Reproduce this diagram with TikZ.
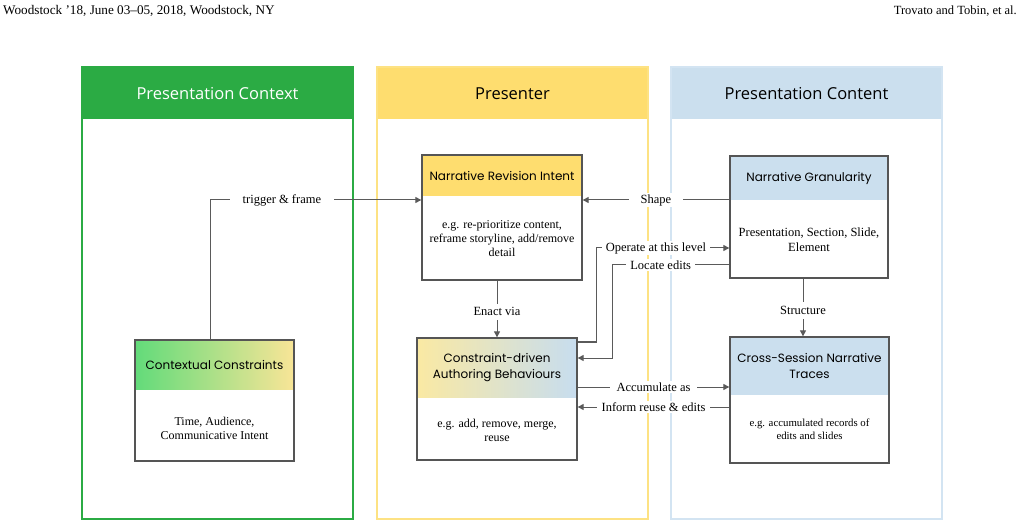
\documentclass[tikz,border=0pt]{standalone}
\usepackage{fontspec}
\setmainfont{Liberation Serif}
\newfontfamily\popp{Poppins}
\newfontfamily\hdrf{Open Sans}
\usetikzlibrary{arrows.meta,calc}
\definecolor{grn}{HTML}{2BAB44}
\definecolor{yel}{HTML}{FEDD6F}
\definecolor{yelb}{HTML}{FDE283}
\definecolor{blu}{HTML}{CBDFEE}
\definecolor{blub}{HTML}{D3E4F2}
\definecolor{boxc}{HTML}{555555}
\definecolor{conc}{HTML}{5A5A5A}
\definecolor{gA}{HTML}{62DB7A}
\definecolor{gB}{HTML}{F9E597}
\definecolor{cA}{HTML}{FAE9A3}
\definecolor{cB}{HTML}{C7DDEF}
\tikzset{
  panel/.style={draw=#1, line width=2pt, inner sep=0, minimum width=271, minimum height=452},
  box/.style={draw=boxc, line width=1.3pt, fill=white, inner sep=0},
  hdrfill/.style 2 args={path picture={\fill[#1] (path picture bounding box.north west) rectangle ([yshift=-#2]path picture bounding box.north east);}},
  hdrshade/.style n args={3}{path picture={\shade[left color=#1,right color=#2] (path picture bounding box.north west) rectangle ([yshift=-#3]path picture bounding box.north east);}},
  ptitle/.style={font=\hdrf\fontsize{16.5}{19}\selectfont},
  ttl/.style={font=\popp\fontsize{12}{16}\selectfont, align=center, inner sep=0},
  body/.style={font=\fontsize{12}{14}\selectfont, align=center, inner sep=0},
  con/.style={draw=conc, line width=1pt, -{Triangle[length=6pt,width=6pt]}},
  lab/.style={fill=white, inner ysep=1.5pt, font=\fontsize{12.5}{14}\selectfont, text=black},
}
\begin{document}
\begin{tikzpicture}[x=1pt,y=-1pt]
\useasboundingbox (0,0) rectangle (1022,526);
% running header
\node[anchor=west, font=\fontsize{13.2}{14}\selectfont, inner sep=0] (rh1) at (3,11) {Woodstock ’18, June 03–05, 2018, Woodstock, NY};
\node[anchor=east, font=\fontsize{12.5}{14}\selectfont, inner sep=0] (rh2) at (1017,11) {Trovato and Tobin, et al.};
% panels
\fill[grn] (82,67) rectangle (353,119);
\fill[yel] (377,67) rectangle (648,119);
\fill[blu] (671,67) rectangle (942,119);
\node[panel=grn] (p1) at (217.5,293) {};
\node[panel=yelb] (p2) at (512.5,293) {};
\node[panel=blub] (p3) at (806.5,293) {};
\node[ptitle, text=white] (p1t) at (217.5,94) {Presentation Context};
\node[ptitle] (p2t) at (512.5,94) {Presenter};
\node[ptitle] (p3t) at (806.5,94) {Presentation Content};
% boxes
\node[box, minimum width=160, minimum height=125, hdrfill={yel}{41pt}] (nri) at (502,217.5) {};
\node[box, minimum width=158, minimum height=122, hdrfill={blu}{44pt}] (ng) at (809,217) {};
\node[box, minimum width=159, minimum height=121, hdrshade={gA}{gB}{49pt}] (ctx) at (214.5,400.5) {};
\node[box, minimum width=160, minimum height=122, hdrshade={cA}{cB}{59pt}] (cab) at (497,399) {};
\node[box, minimum width=159, minimum height=126, hdrfill={blu}{58pt}] (cs) at (809.5,400) {};
% box texts
\node[ttl] (nrit) at (502,175.5) {Narrative Revision Intent};
\node[body] (nrib) at (502,238.5) {e.g. re-prioritize content,\\reframe storyline, add/remove\\detail};
\node[ttl] (ngt) at (809,178) {Narrative Granularity};
\node[body, font=\fontsize{12.5}{15}\selectfont] (ngb) at (809,240) {Presentation, Section, Slide,\\Element};
\node[ttl] (ctxt) at (214.5,364.5) {Contextual Constraints};
\node[body] (ctxb) at (214.5,428) {Time, Audience,\\Communicative Intent};
\node[ttl] (cabt) at (497,367.5) {Constraint-driven\\Authoring Behaviours};
\node[body] (cabb) at (497,430) {e.g. add, remove, merge,\\reuse};
\node[ttl] (cst) at (809.5,366) {Cross-Session Narrative\\Traces};
\node[body, font=\fontsize{10.8}{13.5}\selectfont] (csb) at (809.5,429) {e.g. accumulated records of\\edits and slides};
% helper coordinates
\coordinate (tf) at (210,200);
\coordinate (yS) at (0,200);
\coordinate (yO) at (0,248);
\coordinate (yOb) at (0,342);
\coordinate (xO) at (596,0);
\coordinate (yL) at (0,265);
\coordinate (yLb) at (0,358);
\coordinate (xL) at (612,0);
\coordinate (xE) at (497,0);
\coordinate (xS) at (803,0);
\coordinate (yA) at (0,387);
\coordinate (yI) at (0,407);
% connectors
\draw[con] (ctx.north -| tf) -- (tf) -- node[lab, pos=0.34, inner xsep=13pt] {trigger \& frame} (tf -| nri.west);
\draw[con] (ng.west |- yS) -- node[lab, inner xsep=12pt] {Shape} (nri.east |- yS);
\draw[con] (cab.east |- yOb) -- (xO |- yOb) -- (xO |- yO) -- node[lab, pos=0.45, inner xsep=4pt] {Operate at this level} (ng.west |- yO);
\draw[con] (ng.west |- yL) -- node[lab, pos=0.585, inner xsep=4pt] {Locate edits} (xL |- yL) -- (xL |- yLb) -- (cab.east |- yLb);
\draw[con] (nri.south -| xE) -- node[lab, pos=0.55, inner ysep=4pt, inner xsep=2pt] {Enact via} (cab.north -| xE);
\draw[con] (ng.south -| xS) -- node[lab, pos=0.55, inner ysep=4pt, inner xsep=2pt] {Structure} (cs.north -| xS);
\draw[con] (cab.east |- yA) -- node[lab, inner xsep=7pt] {Accumulate as} (cs.west |- yA);
\draw[con] (cs.west |- yI) -- node[lab, inner xsep=5pt] {Inform reuse \& edits} (cab.east |- yI);
\end{tikzpicture}
\end{document}
